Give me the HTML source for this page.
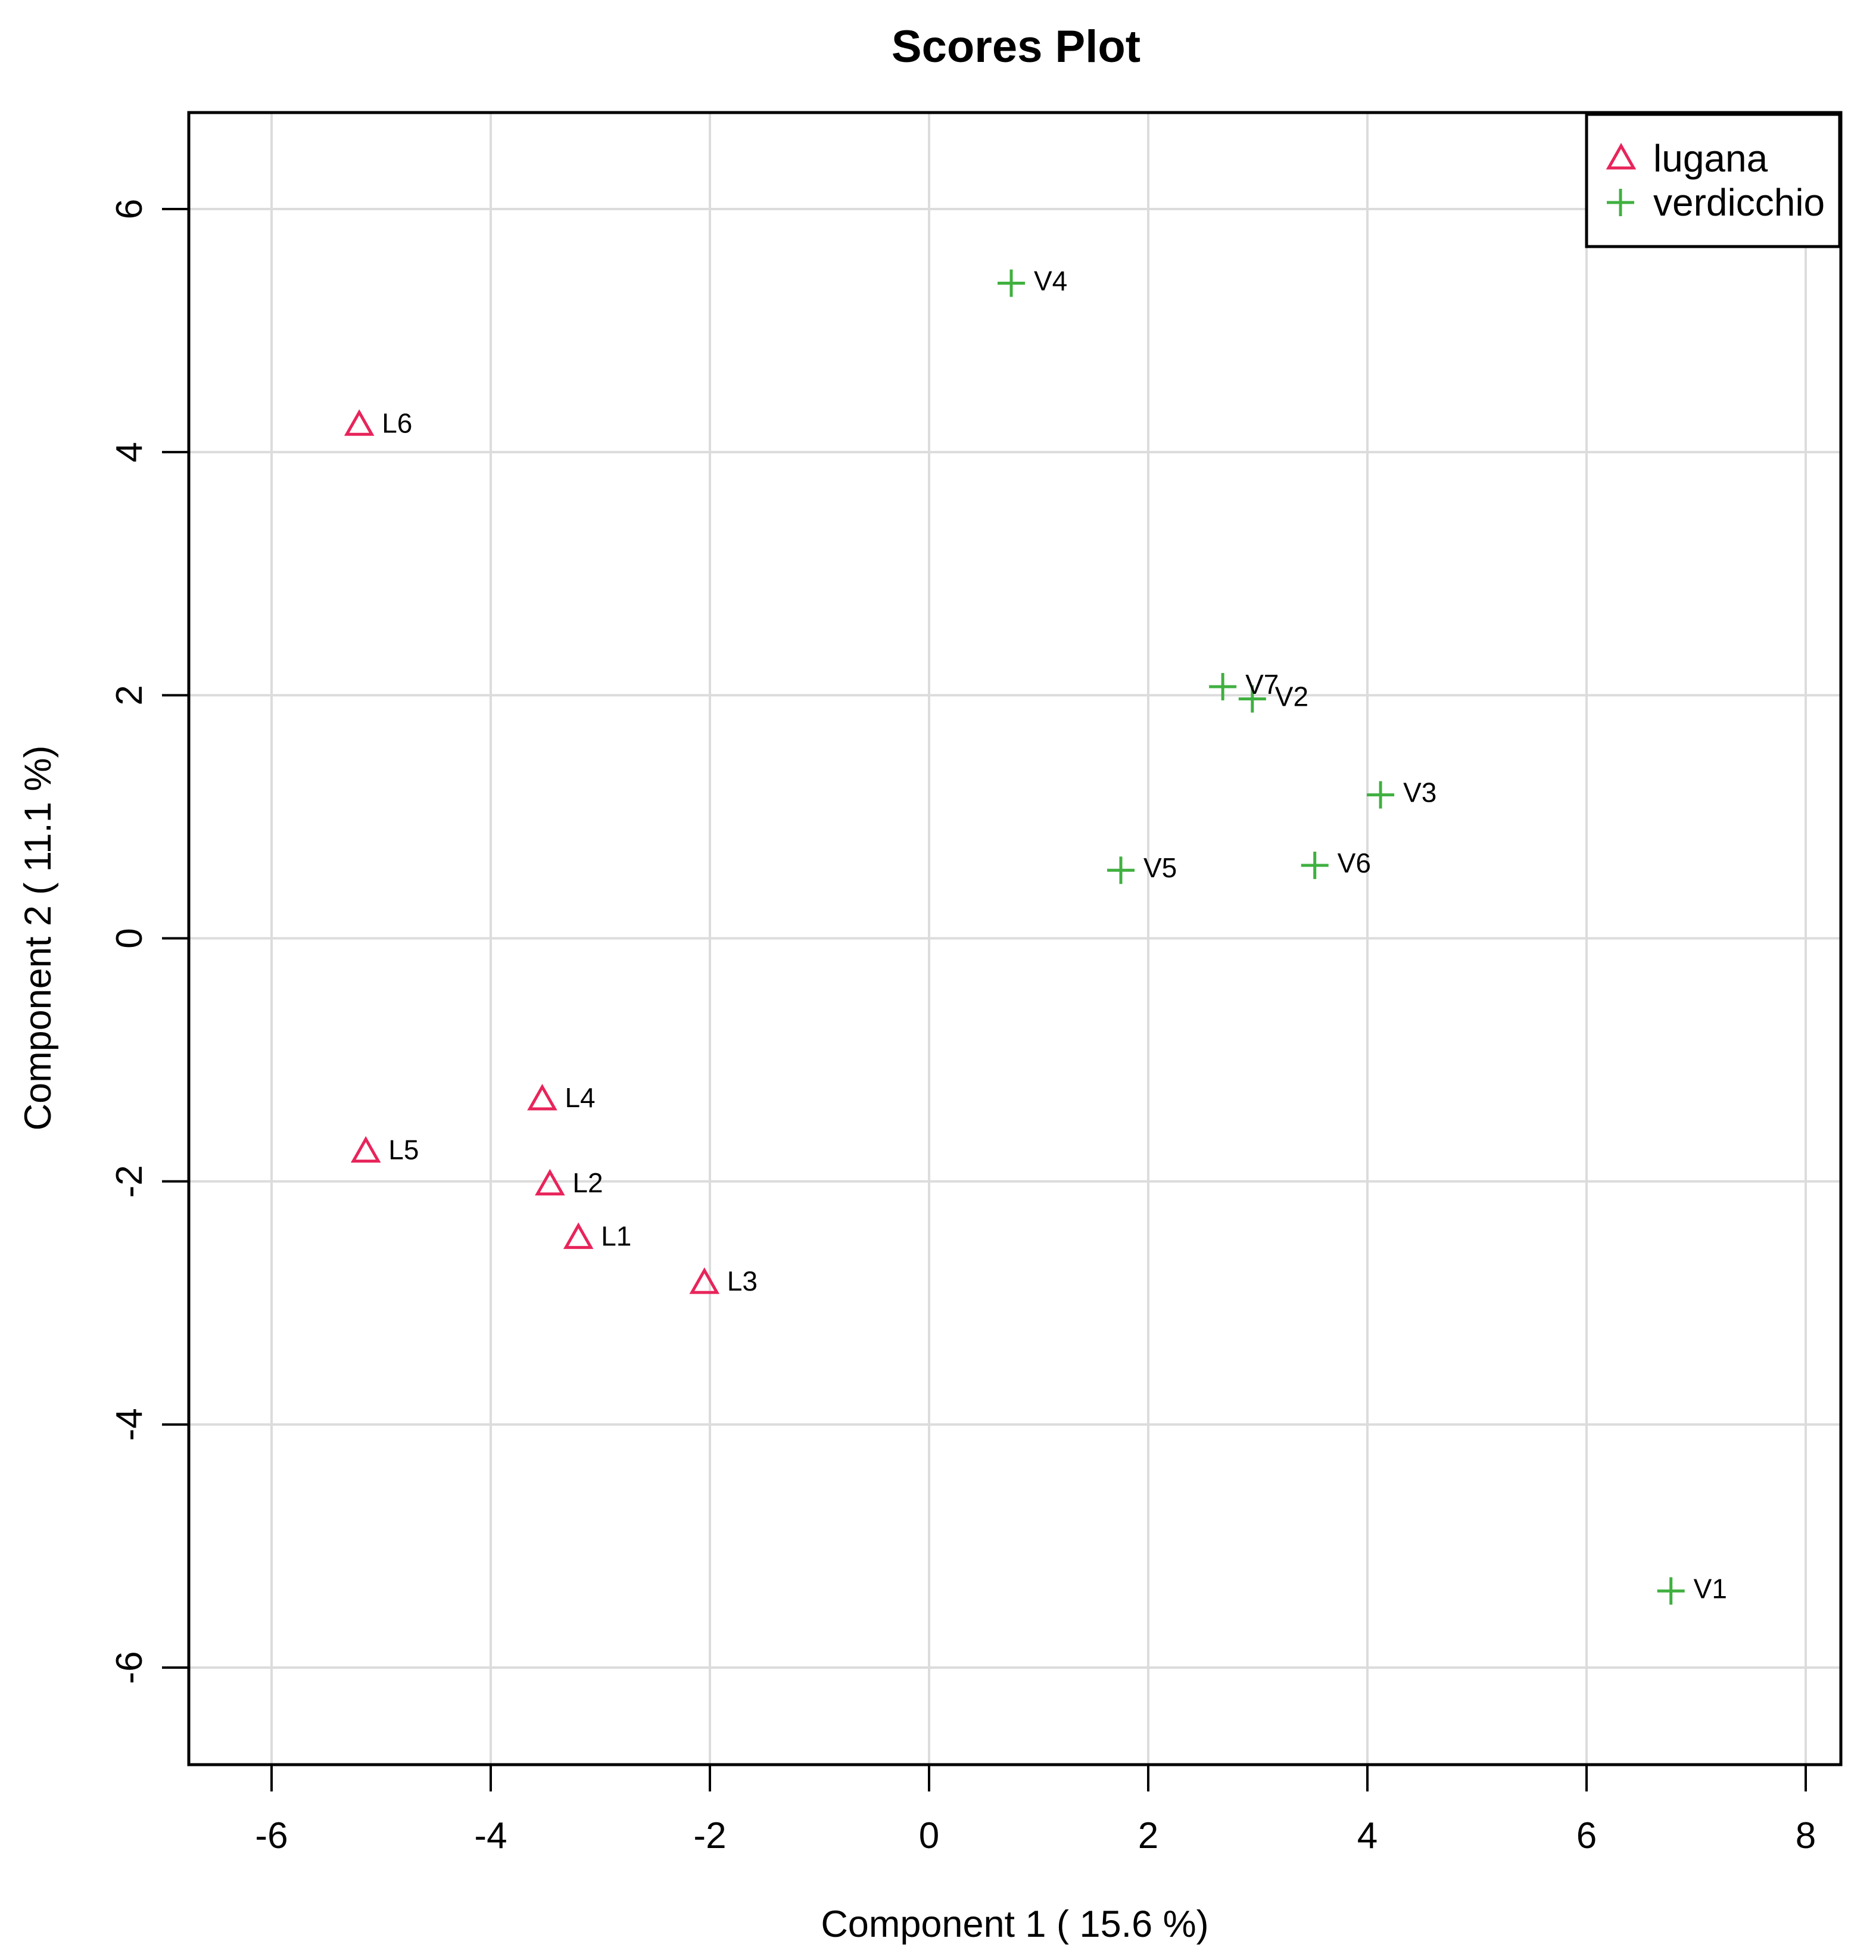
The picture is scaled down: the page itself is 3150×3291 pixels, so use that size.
<!DOCTYPE html>
<html><head><meta charset="utf-8"><style>
html,body{margin:0;padding:0;background:#fff}
svg{display:block}
text{font-family:"Liberation Sans",Arial,sans-serif}
</style></head><body>
<svg id="chart" width="3150" height="3291" viewBox="0 0 3150 3291">
<text x="1706" y="104" font-size="76" font-weight="bold" text-anchor="middle">Scores Plot</text>
<g id="grid"></g>
<g id="axes"></g>
<g id="marks"></g>
<rect x="317" y="189" width="2774" height="2774" fill="none" stroke="#000" stroke-width="5"/>
<text x="1704" y="3252" font-size="63" text-anchor="middle">Component 1 ( 15.6 %)</text>
<text transform="translate(85,1575) rotate(-90)" font-size="63" text-anchor="middle">Component 2 ( 11.1 %)</text>
<g>
<rect x="2664" y="192" width="425" height="222" fill="#fff" stroke="#000" stroke-width="5"/>
<polygon points="2722,245 2743,282 2701,282" fill="none" stroke="#E8245A" stroke-width="5"/>
<text x="2776" y="288" font-size="64">lugana</text>
<path d="M2698,340 H2744 M2721,317 V363" stroke="#40B040" stroke-width="5"/>
<text x="2776" y="362" font-size="64">verdicchio</text>
</g>
</svg>
<script>
const xTicks=[-6,-4,-2,0,2,4,6,8];
const yTicks=[-6,-4,-2,0,2,4,6];
const labels=["L1","L2","L3","L4","L5","L6","V1","V2","V3","V4","V5","V6","V7"];
const groups=["lugana","lugana","lugana","lugana","lugana","lugana","verdicchio","verdicchio","verdicchio","verdicchio","verdicchio","verdicchio","verdicchio"];
const comp1=[-3.20,-3.46,-2.05,-3.53,-5.14,-5.20,6.77,2.95,4.12,0.75,1.75,3.52,2.68];
const comp2=[-2.47,-2.03,-2.84,-1.33,-1.76,4.22,-5.37,1.97,1.18,5.39,0.56,0.60,2.07];
const NS="http://www.w3.org/2000/svg";
const X=v=>456+(v+6)*(3032-456)/14;
const Y=v=>351-(v-6)*(2800-351)/12;
function mk(tag,attrs,parent){const e=document.createElementNS(NS,tag);for(const k in attrs)e.setAttribute(k,attrs[k]);parent.appendChild(e);return e;}
const grid=document.getElementById('grid'),axes=document.getElementById('axes'),marks=document.getElementById('marks');
xTicks.forEach(t=>{
 const g=mk('line',{x1:X(t),x2:X(t),y1:189,y2:2963,stroke:'#dcdcdc','stroke-width':4},grid);
 
 
 const tk=mk('line',{x1:X(t),x2:X(t),y1:2963,y2:3008,stroke:'#000','stroke-width':4},axes);
 
 
 const tl=mk('text',{x:X(t),y:3103,'font-size':62,'text-anchor':'middle'},axes);
 tl.textContent=t;
 
 
});
yTicks.forEach(t=>{
 const g=mk('line',{x1:317,x2:3091,y1:Y(t),y2:Y(t),stroke:'#dcdcdc','stroke-width':4},grid);
 
 
 const tk=mk('line',{x1:272,x2:317,y1:Y(t),y2:Y(t),stroke:'#000','stroke-width':4},axes);
 
 
 const tl=mk('text',{transform:`translate(238,${Y(t)}) rotate(-90)`,'font-size':62,'text-anchor':'middle'},axes);
 tl.textContent=t;
 
 
});
labels.forEach((lab,i)=>{
 const cx=X(comp1[i]),cy=Y(comp2[i]);
 let m;
 if(groups[i]==='lugana'){
  m=mk('polygon',{points:`${cx},${cy-22} ${cx+21},${cy+15} ${cx-21},${cy+15}`,fill:'none',stroke:'#E8245A','stroke-width':5},marks);
 }else{
  m=mk('path',{d:`M${cx-23},${cy} H${cx+23} M${cx},${cy-23} V${cy+23}`,stroke:'#40B040','stroke-width':5},marks);
 }
 
 
 const t=mk('text',{x:cx+38,y:cy+12,'font-size':46},marks);
 t.textContent=lab;
 
 
});
</script>
</body></html>
